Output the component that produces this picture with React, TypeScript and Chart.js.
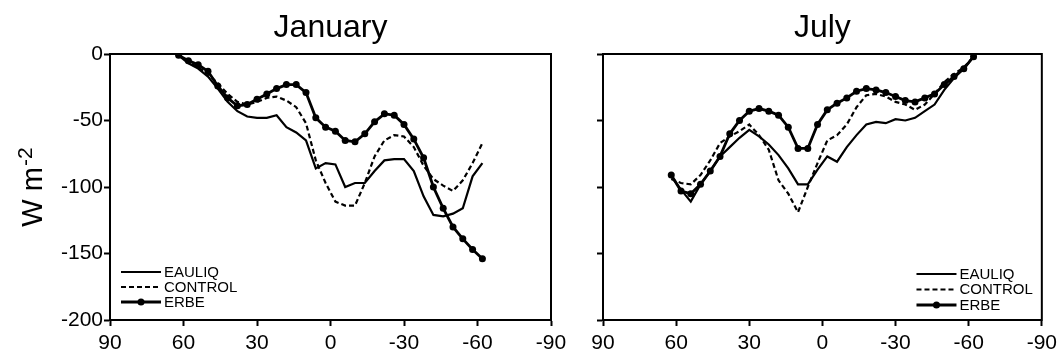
import React, { useEffect, useRef } from "react";
import { Chart, registerables } from "chart.js";

Chart.register(...registerables);

const FONT = "'Liberation Sans', Arial, Helvetica, sans-serif";

// Latitude grid (degrees, north positive)
const LATITUDES = [
  62, 58, 54, 50, 46, 42, 38, 34, 30, 26, 22, 18, 14, 10, 6, 2,
  -2, -6, -10, -14, -18, -22, -26, -30, -34, -38, -42, -46, -50, -54, -58, -62,
];

const X_TICKS = [90, 60, 30, 0, -30, -60, -90];
const Y_TICKS = [0, -50, -100, -150, -200];

const SERIES_NAMES = ["EAULIQ", "CONTROL", "ERBE"];

// January zonal means (W m-2)
const JAN_EAULIQ = [
  -1, -7, -11, -17, -26, -36, -43, -47, -48, -48, -46, -55, -59, -65, -86, -82,
  -83, -100, -97, -97, -88, -80, -79, -79, -88, -107, -121, -122, -120, -116, -92, -82,
];
const JAN_CONTROL = [
  -1, -6, -10, -15, -22, -30, -36, -38, -36, -33, -32, -35, -40, -52, -80, -97,
  -111, -114, -114, -97, -77, -65, -61, -62, -70, -84, -94, -99, -103, -95, -82, -67,
];
const JAN_ERBE = [
  -1, -5, -8, -13, -24, -33, -39, -38, -34, -30, -26, -23, -23, -29, -48, -55,
  -58, -65, -66, -60, -51, -45, -46, -53, -64, -78, -100, -116, -130, -139, -147, -154,
];

// July zonal means (W m-2)
const JUL_EAULIQ = [
  -92, -102, -111, -98, -88, -77, -70, -63, -57, -62, -68, -76, -86, -98, -98, -87,
  -77, -81, -70, -61, -53, -51, -52, -49, -50, -48, -43, -38, -27, -18, -11, -2,
];
const JUL_CONTROL = [
  -94, -97, -98, -91, -80, -67, -62, -58, -53, -61, -72, -95, -105, -119, -100, -82,
  -65, -61, -53, -40, -31, -30, -32, -36, -38, -42, -38, -30, -21, -15, -10, -2,
];
const JUL_ERBE = [
  -91, -103, -105, -98, -88, -77, -60, -50, -43, -41, -43, -46, -55, -71, -71, -53,
  -42, -37, -33, -28, -26, -27, -29, -32, -35, -36, -33, -30, -23, -17, -11, -2,
];

const toPoints = (vals: number[]) => vals.map((v, i) => ({ x: LATITUDES[i], y: v }));

function buildDatasets(eauliq: number[], control: number[], erbe: number[]) {
  return [
    {
      label: SERIES_NAMES[0],
      data: toPoints(eauliq),
      borderColor: "#000",
      borderWidth: 2.2,
      pointRadius: 0,
      tension: 0,
    },
    {
      label: SERIES_NAMES[1],
      data: toPoints(control),
      borderColor: "#000",
      borderWidth: 2.2,
      borderDash: [5, 3],
      pointRadius: 0,
      tension: 0,
    },
    {
      label: SERIES_NAMES[2],
      data: toPoints(erbe),
      borderColor: "#000",
      borderWidth: 2.8,
      pointRadius: 3.5,
      pointBackgroundColor: "#000",
      pointBorderWidth: 0,
      tension: 0,
    },
  ];
}

// Frame, panel title, optional y-axis label and a line-sample legend
const panelDecor = {
  id: "panelDecor",
  afterDraw(chart: any, _args: any, opts: any) {
    const { ctx, chartArea: a } = chart;
    ctx.save();
    ctx.strokeStyle = "#000";
    ctx.lineWidth = 2;
    ctx.strokeRect(a.left, a.top, a.right - a.left, a.bottom - a.top);

    ctx.fillStyle = "#000";
    ctx.font = `32px ${FONT}`;
    ctx.textAlign = "center";
    ctx.textBaseline = "alphabetic";
    ctx.fillText(opts.title, (a.left + a.right) / 2, 37);

    if (opts.yLabel) {
      ctx.save();
      ctx.font = `29px ${FONT}`;
      const mainW = ctx.measureText("W m").width;
      ctx.font = `21px ${FONT}`;
      const supW = ctx.measureText("-2").width;
      const total = mainW + 1 + supW;
      const cy = (a.top + a.bottom) / 2;
      ctx.translate(42, cy + total / 2);
      ctx.rotate(-Math.PI / 2);
      ctx.textAlign = "left";
      ctx.font = `29px ${FONT}`;
      ctx.fillText("W m", 0, 0);
      ctx.font = `21px ${FONT}`;
      ctx.fillText("-2", mainW + 1, -10);
      ctx.restore();
    }

    // legend
    const ds = chart.data.datasets;
    ctx.font = `15px ${FONT}`;
    ctx.textBaseline = "middle";
    ctx.textAlign = "left";
    let maxW = 0;
    ds.forEach((d: any) => (maxW = Math.max(maxW, ctx.measureText(d.label).width)));
    const sampleLen = 40;
    const gap = 3;
    let x0: number;
    if (opts.legendAlign === "right") {
      x0 = a.right - 9 - maxW - gap - sampleLen;
    } else {
      x0 = a.left + 11;
    }
    ds.forEach((d: any, i: number) => {
      const y = a.bottom - opts.legendBottom + i * opts.legendStep;
      ctx.save();
      ctx.strokeStyle = "#000";
      ctx.lineWidth = d.borderWidth;
      ctx.setLineDash(d.borderDash || []);
      ctx.beginPath();
      ctx.moveTo(x0, y);
      ctx.lineTo(x0 + sampleLen, y);
      ctx.stroke();
      if (d.pointRadius > 0) {
        ctx.beginPath();
        ctx.arc(x0 + sampleLen / 2, y, d.pointRadius, 0, Math.PI * 2);
        ctx.fill();
      }
      ctx.restore();
      ctx.fillText(d.label, x0 + sampleLen + gap, y + 0.5);
    });
    ctx.restore();
  },
};

function makeOptions(cfg: {
  title: string;
  yLabel: boolean;
  yWidth: number;
  padRight: number;
  showYLabels: boolean;
  legendAlign: string;
  legendBottom: number;
  legendStep: number;
}) {
  const tickFont = { family: FONT, size: 21 };
  return {
    animation: false,
    responsive: false,
    maintainAspectRatio: false,
    layout: { padding: { top: 54, right: cfg.padRight, left: 0, bottom: 0 } },
    plugins: {
      legend: { display: false },
      tooltip: { enabled: false },
      panelDecor: {
        title: cfg.title,
        yLabel: cfg.yLabel,
        legendAlign: cfg.legendAlign,
        legendBottom: cfg.legendBottom,
        legendStep: cfg.legendStep,
      },
    },
    scales: {
      x: {
        type: "linear",
        reverse: true,
        min: -90,
        max: 90,
        afterBuildTicks: (s: any) => {
          s.ticks = X_TICKS.map((v) => ({ value: v }));
        },
        afterFit: (s: any) => {
          s.height = 35;
        },
        grid: {
          drawOnChartArea: false,
          drawTicks: true,
          tickLength: 6,
          tickWidth: 2,
          tickColor: "#000",
        },
        border: { display: true, color: "#000", width: 2 },
        ticks: {
          color: "#000",
          font: tickFont,
          padding: 5,
          maxRotation: 0,
          autoSkip: false,
          callback: (v: any) => String(v),
        },
      },
      y: {
        type: "linear",
        min: -200,
        max: 0,
        afterBuildTicks: (s: any) => {
          s.ticks = Y_TICKS.map((v) => ({ value: v }));
        },
        afterFit: (s: any) => {
          s.width = cfg.yWidth;
        },
        grid: {
          drawOnChartArea: false,
          drawTicks: true,
          tickLength: 6,
          tickWidth: 2,
          tickColor: "#000",
        },
        border: { display: true, color: "#000", width: 2 },
        ticks: {
          display: cfg.showYLabels,
          color: "#000",
          font: tickFont,
          padding: 1,
          callback: (v: any) => String(v),
        },
      },
    },
  };
}

function Panel(props: {
  left: number;
  width: number;
  datasets: any[];
  options: any;
}) {
  const ref = useRef<HTMLCanvasElement | null>(null);
  useEffect(() => {
    if (!ref.current) return;
    const chart = new Chart(ref.current, {
      type: "line",
      data: { datasets: props.datasets },
      options: props.options,
      plugins: [panelDecor],
    } as any);
    return () => chart.destroy();
  }, []);
  return (
    <canvas
      ref={ref}
      width={props.width}
      height={355}
      style={{
        position: "absolute",
        left: props.left,
        top: 0,
        width: props.width,
        height: 355,
        display: "block",
      }}
    />
  );
}

export default function App() {
  return (
    <div
      style={{
        position: "absolute",
        left: 0,
        top: 0,
        width: 1062,
        height: 355,
        background: "#fff",
        overflow: "hidden",
      }}
    >
      <Panel
        left={0}
        width={580}
        datasets={buildDatasets(JAN_EAULIQ, JAN_CONTROL, JAN_ERBE)}
        options={makeOptions({
          title: "January",
          yLabel: true,
          yWidth: 110,
          padRight: 29,
          showYLabels: true,
          legendAlign: "left",
          legendBottom: 48,
          legendStep: 15,
        })}
      />
      <Panel
        left={580}
        width={482}
        datasets={buildDatasets(JUL_EAULIQ, JUL_CONTROL, JUL_ERBE)}
        options={makeOptions({
          title: "July",
          yLabel: false,
          yWidth: 23,
          padRight: 18,
          showYLabels: false,
          legendAlign: "right",
          legendBottom: 46,
          legendStep: 15.5,
        })}
      />
    </div>
  );
}
